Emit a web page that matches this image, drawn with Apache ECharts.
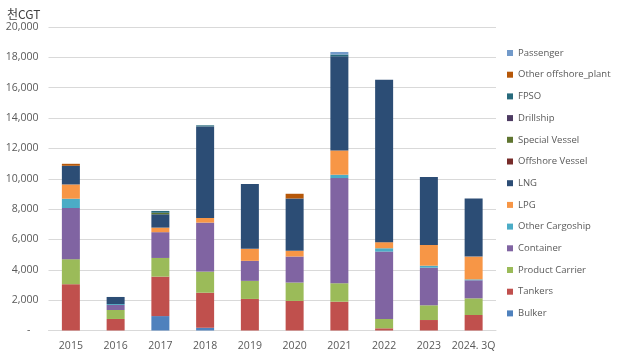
<!DOCTYPE html>
<html>
<head>
<meta charset="utf-8">
<script src="https://cdn.jsdelivr.net/npm/echarts@6/dist/echarts.min.js"></script>
<style>html,body{margin:0;padding:0;background:#fff;}#c{width:622px;height:357px;}</style>
</head>
<body>
<div id="c"></div>
<script>
var categories = ['2015','2016','2017','2018','2019','2020','2021','2022','2023','2024. 3Q'];
var bulker          = [0, 0, 950, 180, 0, 0, 0, 0, 0, 0];
var tankers         = [3050, 760, 2600, 2310, 2080, 1950, 1900, 145, 690, 1020];
var productCarrier  = [1650, 590, 1230, 1390, 1190, 1210, 1215, 615, 970, 1100];
var container       = [3370, 330, 1700, 3230, 1320, 1715, 6930, 4440, 2480, 1190];
var otherCargoship  = [615, 60, 0, 0, 0, 0, 220, 220, 130, 60];
var lpg             = [940, 0, 300, 310, 790, 375, 1600, 400, 1370, 1500];
var lng             = [1230, 470, 880, 6030, 4270, 3450, 6200, 10710, 4470, 3830];
var offshoreVessel  = [0, 0, 0, 0, 0, 0, 0, 0, 0, 0];
var specialVessel   = [0, 0, 100, 0, 0, 0, 0, 0, 0, 0];
var drillship       = [0, 0, 0, 0, 0, 0, 0, 0, 0, 0];
var fpso            = [0, 0, 120, 70, 0, 0, 120, 0, 0, 0];
var otherOffshore   = [130, 0, 0, 0, 0, 310, 0, 0, 0, 0];
var passenger       = [0, 0, 0, 0, 0, 0, 170, 0, 0, 0];
var yTicks = [0, 2000, 4000, 6000, 8000, 10000, 12000, 14000, 16000, 18000, 20000];

var seriesDefs = [
  ['Bulker', bulker, '#4F81BD'],
  ['Tankers', tankers, '#C0504D'],
  ['Product Carrier', productCarrier, '#9BBB59'],
  ['Container', container, '#8064A2'],
  ['Other Cargoship', otherCargoship, '#4BACC6'],
  ['LPG', lpg, '#F79646'],
  ['LNG', lng, '#2C4D75'],
  ['Offshore Vessel', offshoreVessel, '#772C2A'],
  ['Special Vessel', specialVessel, '#5F7530'],
  ['Drillship', drillship, '#4D3B62'],
  ['FPSO', fpso, '#276A7C'],
  ['Other offshore_plant', otherOffshore, '#B65708'],
  ['Passenger', passenger, '#729ACA']
];

var series = seriesDefs.map(function (d) {
  return {
    name: d[0], type: 'bar', stack: 'total', data: d[1], barWidth: 18,
    itemStyle: { color: d[2] }, emphasis: { disabled: true }
  };
});

var legendOrder = seriesDefs.map(function (d) { return d[0]; }).reverse();
var labelFont = 'Open Sans';

var chart = echarts.init(document.getElementById('c'), null, { renderer: 'canvas' });
chart.setOption({
  animation: false,
  backgroundColor: '#ffffff',
  title: {
    text: '천CGT', left: 2, top: 3,
    textStyle: { fontFamily: 'Noto Sans CJK KR', fontSize: 12, fontWeight: 'normal', color: '#404040' }
  },
  grid: { left: 48.5, right: 126, top: 27, bottom: 26.5, containLabel: false },
  legend: {
    orient: 'vertical', left: 502, top: 42,
    itemWidth: 6, itemHeight: 6, itemGap: 9.7,
    icon: 'rect',
    data: legendOrder,
    textStyle: { fontFamily: labelFont, fontSize: 9.5, color: '#595959', lineHeight: 12 }
  },
  xAxis: {
    type: 'category', data: categories,
    axisLine: { show: true, lineStyle: { color: '#D9D9D9' } },
    axisTick: { show: false },
    axisLabel: { interval: 0, fontFamily: labelFont, fontSize: 10.5, color: '#595959', margin: 10 }
  },
  yAxis: {
    type: 'value', min: yTicks[0], max: yTicks[yTicks.length - 1], interval: yTicks[1] - yTicks[0],
    axisLine: { show: false }, axisTick: { show: false },
    splitLine: { lineStyle: { color: '#D9D9D9' } },
    axisLabel: {
      fontFamily: labelFont, fontSize: 10.5, color: '#595959', margin: 10,
      formatter: function (v) { return v === 0 ? '-   ' : v.toLocaleString('en-US'); }
    }
  },
  series: series
});
</script>
</body>
</html>
